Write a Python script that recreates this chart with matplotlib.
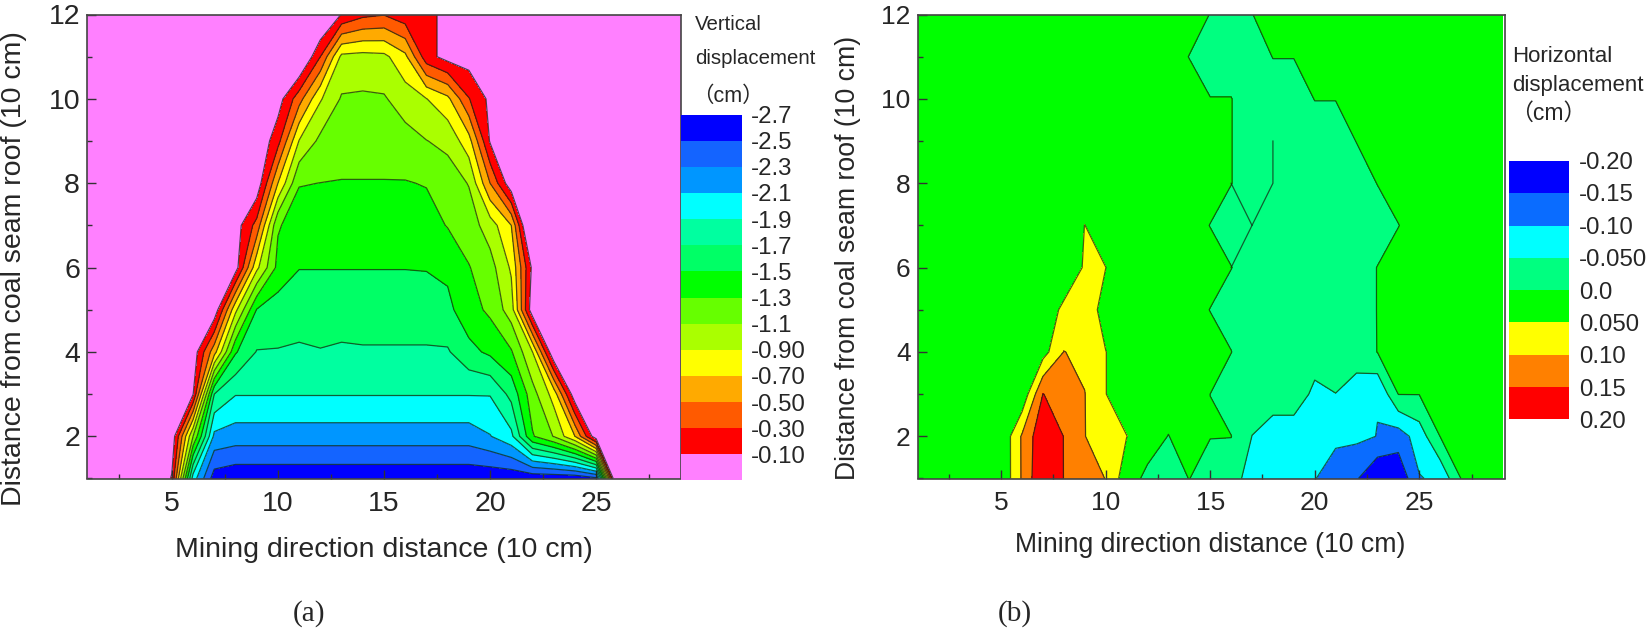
import matplotlib
matplotlib.use("Agg")
import matplotlib.pyplot as plt
import numpy as np
from matplotlib.colors import ListedColormap, BoundaryNorm
from matplotlib.ticker import MultipleLocator

plt.rcParams['font.family'] = ['Liberation Sans', 'Noto Sans CJK SC', 'DejaVu Sans']

x_grid = list(range(1, 30))
y_grid = list(range(1, 13))

# ---- panel (a): vertical displacement (cm), one list per row y = 1..12, x = 1..29
v01 = [.2]*4 + [-.12, -2.0, -2.6] + [-2.65]*17 + [-2.55, .5, .5, .5, .5]
v02 = [.2]*4 + [.05, -1.1, -2.15] + [-2.2]*12 + [-2.11, -1.95, -1.32, -1.09, -.7, .05, .5, .5, .5, .5]
v03 = [.2]*5 + [-.09, -1.7] + [-1.89]*13 + [-1.64, -1.18, -.82, .05, .5, .5, .5, .5, .5]
v04 = [.2]*5 + [.03, -.62, -1.48, -1.71, -1.71, -1.73, -1.71, -1.73, -1.72, -1.72, -1.72, -1.72, -1.72,
                -1.56, -1.46, -1.32, -.9, .1, .5, .5, .5, .5, .5, .5]
v05 = [.2]*6 + [.05, -.85, -1.51, -1.6, -1.6, -1.6, -1.6, -1.6, -1.6, -1.6, -1.6, -1.55,
                -1.38, -1.26, -1.0, .05, .5, .5, .5, .5, .5, .5, .5]
v06 = [.2]*7 + [0., -.85, -1.36, -1.495, -1.495, -1.495, -1.495, -1.495, -1.495, -1.49, -1.46,
                -1.31, -1.18, -.87, -.05, .5, .5, .5, .5, .5, .5, .5]
v07 = [.2]*7 + [0., -.37, -1.28, -1.4, -1.4, -1.4, -1.4, -1.4, -1.4, -1.38, -1.29,
                -1.2, -1.0, -.7, .4, .5, .5, .5, .5, .5, .5, .5]
v08 = [.2]*8 + [.05, -.7, -1.29, -1.302, -1.31, -1.31, -1.31, -1.31, -1.29, -1.2,
                -1.09, -.5, .05, .5, .5, .5, .5, .5, .5, .5, .5]
v09 = [.2]*8 + [.1, -.23, -.91, -1.15, -1.2, -1.2, -1.2, -1.18, -1.105, -1.05,
                -.78, -.08, .8, .5, .5, .5, .5, .5, .5, .5, .5]
v10 = [.2]*9 + [0., -.42, -.88, -1.12, -1.13, -1.12, -1.0, -.905, -.75, -.31, -.05, .2,
                .2, .2, .2, .2, .2, .2, .2, .2]
v11 = [.2]*10 + [.2, -.3, -.95, -.97, -.95, -.75, -.18, -.02, 0., .2, .2,
                 .2, .2, .2, .2, .2, .2, .2, .2]
v12 = [.2]*11 + [.2, -.11, -.25, -.29, -.17, -.2, 0., .2, .2, .2,
                 .2, .2, .2, .2, .2, .2, .2, .2]
v_rows = [v01, v02, v03, v04, v05, v06, v07, v08, v09, v10, v11, v12]

v_bounds = [-3.0, -2.5, -2.3, -2.1, -1.9, -1.7, -1.5, -1.3, -1.1, -.9, -.7, -.5, -.3, -.1, 1.0]
v_colors = ['#0000FF', '#1464FF', '#0096FF', '#00FFFF', '#00FFA0', '#00FF66', '#00FF00',
            '#66FF00', '#AAFF00', '#FFFF00', '#FFAA00', '#FF5A00', '#FF0000', '#FF80FF']
v_labels = ['-2.7', '-2.5', '-2.3', '-2.1', '-1.9', '-1.7', '-1.5', '-1.3', '-1.1',
            '-0.90', '-0.70', '-0.50', '-0.30', '-0.10']

# ---- panel (b): horizontal displacement (cm)
h01 = [.02]*4 + [.005, .105, .2, .149, .12, .099, .02, -.01, -.02, .001, -.03, -.03, -.07, -.07, -.075,
                 -.098, -.125, -.145, -.2, -.19, -.103, -.09, .001, .02, .02]
h02 = [.02]*4 + [.005, .106, .19, .149, .101, .075, .051, .02, -.001, .02, .002, .001, -.0505, -.075, -.075,
                 -.075, -.09, -.09, -.101, -.125, -.077, .001, .02, .02, .02]
h03 = [.02]*5 + [.01, .151, .13, .101, .051, .02, .02, .02, .02, -.0001, -.03, -.03, -.025, -.025,
                 -.06, -.0505, -.07, -.098, .001, .001, .02, .02, .02, .02]
h04 = [.02]*6 + [.03, .101, .09, .051, .02, .02, .02, .02, .02, .001, -.03, -.03, -.03, -.03, -.03, -.03,
                 .001, .02, .02, .02, .02, .02, .02]
h05 = [.02]*6 + [.02, .06, .08, .03, .02, .02, .02, .02, -.001, -.02, -.02, -.02, -.02, -.02, -.02, -.02,
                 .001, .02, .02, .02, .02, .02, .02]
h06 = [.02]*7 + [.015, .055, .0505, .02, .02, .02, .02, .02, .001, -.02, -.02, -.02, -.02, -.02, -.02,
                 .001, .02, .02, .02, .02, .02, .02]
h07 = [.02]*8 + [.0505, .02, .02, .02, .02, .02, -.001, -.02, -.02, -.02, -.02, -.02, -.02, -.02, -.02,
                 -.001, .02, .02, .02, .02, .02]
h08 = [.02]*15 + [.001, -.02, -.02, -.02, -.02, -.02, -.02, .001, .02, .02, .02, .02, .02, .02]
h09 = [.02]*15 + [.001, -.02, -.02, -.02, -.02, -.02, .001, .02, .02, .02, .02, .02, .02, .02]
h10 = [.02]*14 + [.001, .001, -.02, -.02, -.02, .001, .001, .02, .02, .02, .02, .02, .02, .02, .02]
h11 = [.02]*13 + [-.001, -.02, -.02, -.02, .001, .001, .02, .02, .02, .02, .02, .02, .02, .02, .02, .02]
h12 = [.02]*14 + [-.001, -.02, -.001, .02, .02, .02, .02, .02, .02, .02, .02, .02, .02, .02, .02]
h_rows = [h01, h02, h03, h04, h05, h06, h07, h08, h09, h10, h11, h12]

h_bounds = [-.25, -.15, -.10, -.05, 0., .05, .10, .15, .25]
h_colors = ['#0000FF', '#0A6CFF', '#00FFFF', '#00FF80', '#00FF00', '#FFFF00', '#FF8000', '#FF0000']
h_labels = ['-0.20', '-0.15', '-0.10', '-0.050', '0.0', '0.050', '0.10', '0.15', '0.20']

# zero-valued ridge lines of panel (b), same colour either side
ridge1_x = [16, 17, 18, 18]
ridge1_y = [6, 7, 8, 9]
ridge2_x = [16, 17]
ridge2_y = [8, 7]

PW, PH = 1650, 630
LINE = (0.08, 0.16, 0.08, 0.75)
TXT = '#262626'
fig = plt.figure(figsize=(PW/100, PH/100), dpi=100)


def box(l, t, r, b):
    return fig.add_axes([l/PW, 1-b/PH, (r-l)/PW, (b-t)/PH])


def put(x, y, s, **kw):
    kw.setdefault('color', TXT)
    fig.text(x/PW, 1-y/PH, s, **kw)


def panel(rows, bounds, colors, rect, xmax, fs):
    ax = box(*rect)
    Z = np.array(rows, dtype=float)
    cmap = ListedColormap(colors)
    norm = BoundaryNorm(bounds, cmap.N)
    ax.contourf(x_grid, y_grid, Z, levels=bounds, cmap=cmap, norm=norm)
    ax.contour(x_grid, y_grid, Z, levels=bounds[1:-1], colors=[LINE], linewidths=0.9,
               linestyles='solid')
    ax.set_xlim(1, xmax)
    ax.set_ylim(1, 12)
    ax.xaxis.set_major_locator(MultipleLocator(5))
    ax.xaxis.set_minor_locator(MultipleLocator(2.5))
    ax.yaxis.set_major_locator(MultipleLocator(2))
    ax.yaxis.set_minor_locator(MultipleLocator(1))
    ax.tick_params(which='major', direction='in', length=6.5, width=1.0, color='#333333',
                   labelsize=fs, labelcolor=TXT)
    ax.tick_params(axis='x', which='major', pad=9)
    ax.tick_params(axis='y', which='major', pad=5)
    ax.tick_params(which='minor', direction='in', length=3.5, width=1.0, color='#333333')
    for s in ax.spines.values():
        s.set_color('#444444')
        s.set_linewidth(1.2)
    return ax


def legend(colors, rect):
    ax = box(*rect)
    idx = np.arange(len(colors))[::-1].reshape(-1, 1)
    ax.pcolormesh(idx, cmap=ListedColormap(colors), vmin=-.5, vmax=len(colors)-.5)
    ax.axis('off')


# panel (a)
panel(v_rows, v_bounds, v_colors, (87, 14.5, 681, 478.5), 29, 20.5)
legend(v_colors, (681, 115, 742, 480))
for i, s in enumerate(v_labels):
    put(751, 117 + i*26.15, s, fontsize=17.3, va='center', ha='left')
put(695, 24, 'Vertical', fontsize=14.7, va='center')
put(695, 59, 'displacement', fontsize=14.7, va='center')
put(728, 96, '（cm）', fontsize=15.5, va='center', ha='center')
put(384, 550, 'Mining direction distance (10 cm)', fontsize=20.5, va='center', ha='center')
put(14, 269, 'Distance from coal seam roof (10 cm)', fontsize=20.5, va='center', ha='center', rotation=90)
put(309, 614, '(a)', fontsize=21, va='center', ha='center', family='Liberation Serif')

# panel (b)
axb = panel(h_rows, h_bounds, h_colors, (917.5, 14.5, 1505, 478.5), 29.1, 19)
axb.plot(ridge1_x, ridge1_y, color=LINE, lw=0.9)
axb.plot(ridge2_x, ridge2_y, color=LINE, lw=0.9)
legend(h_colors, (1509, 161, 1569, 419))
for i, s in enumerate(h_labels):
    put(1579, 163 + i*32.4, s, fontsize=17.3, va='center', ha='left')
put(1512, 57, 'Horizontal', fontsize=16, va='center')
put(1512, 85, 'displacement', fontsize=16, va='center')
put(1548, 113, '（cm）', fontsize=16.5, va='center', ha='center')
put(1210, 545, 'Mining direction distance (10 cm)', fontsize=19.2, va='center', ha='center')
put(848, 258, 'Distance from coal seam roof (10 cm)', fontsize=19.2, va='center', ha='center', rotation=90)
put(1015, 614, '(b)', fontsize=21, va='center', ha='center', family='Liberation Serif')

fig.savefig('out.png', dpi=100)
